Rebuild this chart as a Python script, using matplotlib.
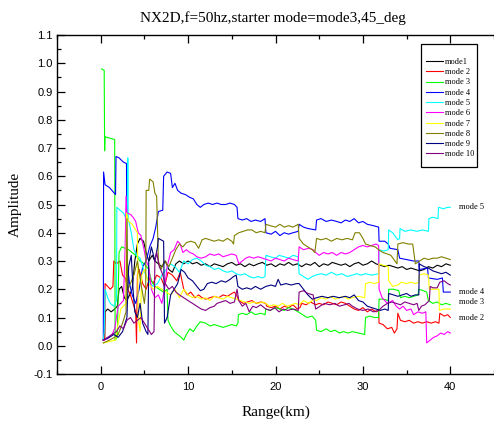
import matplotlib
matplotlib.use("Agg")
import matplotlib.pyplot as plt
from matplotlib.ticker import MultipleLocator
from matplotlib.patches import Rectangle

# ---------------- data ----------------
title = "NX2D,f=50hz,starter mode=mode3,45_deg"
labels = ["mode1", "mode 2", "mode 3", "mode 4", "mode 5",
          "mode 6", "mode 7", "mode 8", "mode 9", "mode 10"]
colors = ["#000000", "#ff0000", "#00ff00", "#0000ff", "#00ffff",
          "#ff00ff", "#ffff00", "#808000", "#000080", "#800080"]
end_labels = ["mode 5", "mode 4", "mode 3", "mode 2"]
end_label_y = [0.49, 0.19, 0.155, 0.10]

m1_x = [0.3,0.45,0.5,0.8,1.2,1.6,1.9,2.1,2.4,2.7,3.0,3.3,3.6,3.9,4.2,4.5,4.9,5.2,5.5,5.9,6.2,6.6,7.0,7.4,7.8,8.2,8.6,9.0,9.5,10.0,10.5,
        11,11.5,12,12.5,13,13.5,14,14.5,15,15.5,16,16.5,17,17.5,18,18.5,19,19.5,20,20.5,21,21.5,22,22.5,23,23.5,24,24.5,25,25.5,
        26,26.5,27,27.5,28,28.5,29,29.5,30,30.5,31,31.5,32,32.5,33,33.5,34,34.5,35,35.5,36,36.5,37,37.5,38,38.5,39,39.5,40]
m1_y = [0.02,0.03,0.12,0.13,0.12,0.13,0.14,0.2,0.21,0.17,0.16,0.18,0.2,0.3,0.36,0.38,0.37,0.33,0.3,0.32,0.3,0.29,0.28,0.3,0.27,0.26,0.29,0.3,0.29,0.3,0.29,
        0.295,0.285,0.29,0.28,0.29,0.285,0.28,0.29,0.295,0.285,0.29,0.28,0.29,0.283,0.29,0.295,0.285,0.29,0.28,0.29,0.285,0.295,0.285,0.29,0.28,0.29,0.285,0.295,0.28,0.29,
        0.285,0.295,0.29,0.285,0.29,0.28,0.29,0.295,0.285,0.29,0.3,0.29,0.285,0.28,0.285,0.28,0.275,0.28,0.27,0.275,0.27,0.265,0.27,0.28,0.275,0.285,0.28,0.29,0.285]

m2_x = [0.3,0.45,0.5,0.8,1.1,1.4,1.5,1.8,2.2,2.5,2.8,3.1,3.4,3.7,4.0,4.1,4.2,4.4,4.8,5.2,5.6,6.0,6.4,6.9,7.3,7.7,8.2,8.7,9.1,9.5,9.9,10.3,10.8,
        11.2,11.6,12,12.5,13,13.5,14,14.5,15,15.3,15.6,15.8,16.3,16.8,17.3,17.8,18.3,18.9,19.0,19.5,20,20.5,21,21.5,22,22.5,22.8,23.0,23.5,24,24.6,
        25,25.5,26,26.5,27,27.5,28,28.5,29,29.5,30,30.5,31,31.5,31.8,31.85,32.3,32.8,33.3,33.6,33.9,34.0,34.3,34.8,35.3,35.8,36.3,36.8,37.3,37.8,
        38.3,38.7,38.8,39.3,39.7,40]
m2_y = [0.02,0.02,0.22,0.21,0.2,0.21,0.3,0.29,0.3,0.25,0.24,0.2,0.18,0.15,0.12,0.01,0.25,0.27,0.22,0.2,0.24,0.22,0.25,0.24,0.21,0.26,0.25,0.23,0.26,0.2,0.18,0.19,0.17,
        0.18,0.17,0.165,0.17,0.175,0.17,0.18,0.175,0.185,0.19,0.175,0.16,0.15,0.155,0.16,0.15,0.155,0.15,0.14,0.135,0.14,0.13,0.14,0.135,0.145,0.13,0.135,0.15,0.145,0.155,0.145,
        0.15,0.145,0.155,0.15,0.145,0.155,0.15,0.14,0.13,0.125,0.135,0.12,0.13,0.12,0.125,0.08,0.075,0.06,0.065,0.045,0.06,0.115,0.09,0.085,0.09,0.08,0.085,0.08,0.085,0.08,
        0.085,0.08,0.115,0.105,0.11,0.10]

m3_x = [0.1,0.4,0.45,0.5,1.0,1.6,1.65,1.9,2.1,2.4,2.8,3.2,3.6,4.0,4.5,5.0,5.5,5.8,6.2,6.7,7.2,7.6,7.7,8.0,8.4,8.8,9.2,9.5,9.8,10.2,10.6,11.0,
        11.4,12,12.5,13,13.5,14,14.5,15,15.5,15.7,15.75,16.2,16.7,17.2,17.7,18.3,18.8,18.9,19.4,20,20.5,21,21.5,22,22.6,23.1,23.6,24.2,24.6,24.7,
        25.2,25.8,26.3,26.8,27.3,27.8,28.3,28.8,29.5,30.2,30.3,30.8,31.3,31.8,31.85,32.3,32.9,32.95,33.5,34.1,34.3,34.8,35.3,35.8,36.3,36.4,36.9,
        37.3,37.5,38,38.5,39,39.5,40]
m3_y = [0.98,0.975,0.69,0.74,0.735,0.73,0.02,0.03,0.33,0.35,0.345,0.34,0.33,0.32,0.3,0.29,0.27,0.23,0.21,0.2,0.19,0.2,0.09,0.07,0.05,0.04,0.03,0.02,0.04,0.06,0.05,0.07,
        0.085,0.08,0.07,0.075,0.07,0.065,0.07,0.075,0.07,0.08,0.11,0.115,0.11,0.12,0.11,0.115,0.11,0.13,0.125,0.135,0.13,0.125,0.135,0.13,0.12,0.11,0.1,0.105,0.09,0.055,
        0.05,0.06,0.05,0.055,0.045,0.05,0.045,0.05,0.045,0.04,0.1,0.105,0.1,0.1,0.165,0.165,0.16,0.2,0.2,0.195,0.17,0.175,0.17,0.175,0.18,0.2,0.195,
        0.19,0.16,0.15,0.155,0.145,0.15,0.145]

m4_x = [0.3,0.33,0.5,1.0,1.7,1.75,2.1,2.6,2.95,3.0,3.3,3.6,4.0,4.4,4.8,5.2,5.6,6.0,6.3,6.6,7.1,7.2,7.6,8.0,8.2,8.5,8.8,9.2,9.7,10.2,10.6,11.0,
        11.4,11.8,12.3,12.8,13.3,13.8,14.3,14.8,15.3,15.6,15.7,16.2,16.7,17.2,17.7,18.3,18.8,18.9,19.5,20,20.5,21,21.5,22.0,22.6,22.7,23.2,23.7,
        24.6,24.7,25.2,25.8,26.4,27,27.5,28,28.5,29.0,29.5,30,30.5,31.2,31.8,31.85,32.5,32.9,33.1,34.0,34.2,35,35.8,36.4,36.45,37.4,37.5,38.5,
        39.1,39.2,40]
m4_y = [0.02,0.615,0.57,0.56,0.535,0.67,0.665,0.65,0.645,0.3,0.22,0.18,0.15,0.2,0.28,0.3,0.35,0.38,0.42,0.475,0.48,0.6,0.615,0.61,0.56,0.575,0.55,0.54,0.535,0.525,0.52,0.5,
        0.49,0.5,0.505,0.5,0.505,0.5,0.5,0.505,0.5,0.49,0.45,0.445,0.45,0.44,0.445,0.44,0.45,0.40,0.395,0.405,0.39,0.4,0.395,0.4,0.405,0.43,0.42,0.415,
        0.41,0.445,0.45,0.44,0.445,0.44,0.435,0.445,0.44,0.45,0.435,0.44,0.43,0.425,0.42,0.37,0.37,0.36,0.345,0.34,0.31,0.305,0.3,0.3,0.27,0.275,0.24,0.235,
        0.24,0.19,0.19]

m5_x = [0.3,0.4,0.5,0.8,1.1,1.5,1.8,1.85,2.2,2.6,2.9,3.05,3.1,3.15,3.5,3.8,4.1,4.5,4.9,5.3,5.7,6.0,6.5,7.0,7.5,8.0,8.5,9.0,9.5,10.0,10.5,11.0,
        11.5,12,12.5,13,13.5,14,14.5,15,15.5,16,16.5,17,17.5,18,18.5,18.8,18.9,19.4,20,20.4,21,21.5,22,22.6,22.7,23.2,23.7,24.2,24.6,25.2,25.8,
        26.4,27,27.6,28.2,28.8,29.3,29.8,30.3,31,31.8,31.85,32.4,32.9,32.95,33.4,34.0,34.2,34.25,34.8,35.5,36.2,36.8,37.5,37.55,38.0,38.6,38.65,
        39.2,39.7,40]
m5_y = [0.02,0.05,0.2,0.17,0.15,0.14,0.16,0.49,0.48,0.47,0.45,0.45,0.665,0.45,0.4,0.34,0.32,0.31,0.27,0.24,0.22,0.21,0.22,0.25,0.27,0.29,0.28,0.26,0.3,0.29,0.305,0.31,
        0.3,0.285,0.28,0.27,0.275,0.265,0.26,0.265,0.255,0.25,0.255,0.245,0.24,0.245,0.24,0.245,0.32,0.315,0.31,0.32,0.315,0.31,0.32,0.315,0.255,0.245,0.235,0.245,0.25,0.255,0.25,
        0.26,0.25,0.255,0.245,0.25,0.255,0.25,0.255,0.25,0.255,0.34,0.335,0.34,0.41,0.4,0.375,0.38,0.415,0.405,0.41,0.405,0.41,0.405,0.45,0.455,0.45,0.49,
        0.485,0.49,0.49]

m6_x = [0.3,0.8,1.3,1.6,1.8,2.0,2.3,2.6,2.8,2.9,3.0,3.4,3.7,4.0,4.3,4.6,4.9,5.2,5.5,5.8,6.2,6.6,7.0,7.3,7.6,8.0,8.4,8.8,9.1,9.4,9.8,10.2,10.6,
        11.0,11.5,12.0,12.5,13.0,13.5,14,14.5,15,15.5,15.8,16.2,16.6,17,17.5,18,18.5,19,19.5,20,20.5,21,21.5,22,22.6,22.7,23.2,23.8,24.3,24.6,
        25.0,25.5,26,26.5,27,27.5,28,28.5,29,29.5,30,30.5,31,31.5,31.8,31.85,32.2,32.8,33.4,33.8,34.2,34.6,35.0,35.5,35.8,36.3,36.8,37.2,37.3,
        37.7,38.1,38.5,38.9,39.3,39.7,40]
m6_y = [0.02,0.025,0.04,0.06,0.1,0.14,0.15,0.16,0.35,0.53,0.47,0.465,0.455,0.44,0.4,0.39,0.35,0.3,0.28,0.2,0.17,0.18,0.15,0.2,0.28,0.33,0.34,0.37,0.36,0.33,0.34,0.33,0.325,
        0.315,0.31,0.315,0.325,0.32,0.325,0.315,0.32,0.325,0.32,0.29,0.3,0.31,0.315,0.31,0.315,0.31,0.305,0.3,0.31,0.305,0.3,0.31,0.305,0.3,0.35,0.34,0.345,0.34,0.33,
        0.32,0.33,0.325,0.33,0.32,0.33,0.325,0.33,0.34,0.35,0.355,0.35,0.355,0.36,0.355,0.2,0.17,0.15,0.16,0.14,0.13,0.14,0.125,0.13,0.11,0.12,0.115,0.12,0.01,
        0.02,0.03,0.035,0.045,0.04,0.05,0.045]

m7_x = [0.3,1.0,1.7,2.0,2.3,2.6,2.9,2.95,3.2,3.6,4.0,4.2,4.3,4.5,4.7,5.0,5.5,6.0,6.5,7.0,7.5,8.0,8.5,9.0,9.5,10,10.5,11,11.5,12,12.5,13,13.5,
        14,14.5,15,15.5,16,16.5,17,17.5,18,18.5,18.9,19.3,19.8,20.3,20.8,21.3,21.8,22.3,22.7,23.2,23.8,24.4,24.7,25.2,25.8,26.3,26.8,27.3,27.8,
        28.3,28.8,29.5,30.2,30.3,30.8,31.3,31.8,31.85,32.3,32.9,32.95,33.4,34.0,34.4,35,35.5,36,36.4,36.45,37.0,37.5,37.6,38.2,38.7,38.75,39.3,40]
m7_y = [0.01,0.015,0.02,0.08,0.13,0.14,0.15,0.47,0.44,0.43,0.41,0.4,0.1,0.05,0.25,0.27,0.22,0.2,0.21,0.2,0.19,0.18,0.2,0.17,0.2,0.18,0.17,0.175,0.165,0.17,0.16,0.175,0.17,
        0.165,0.175,0.17,0.165,0.16,0.155,0.15,0.155,0.15,0.155,0.15,0.14,0.145,0.14,0.15,0.14,0.145,0.15,0.145,0.16,0.15,0.165,0.16,0.17,0.165,0.175,0.165,0.17,0.175,
        0.165,0.17,0.175,0.17,0.22,0.225,0.22,0.225,0.29,0.285,0.28,0.23,0.21,0.215,0.225,0.22,0.225,0.22,0.225,0.25,0.255,0.25,0.2,0.2,0.2,0.125,0.13,0.13]

m8_x = [0.3,1.0,1.6,2.0,2.5,2.9,3.0,3.1,3.4,3.8,4.2,4.6,5.0,5.15,5.2,5.5,5.6,6.0,6.2,6.4,6.6,6.9,7.3,7.8,8.2,8.6,9.0,9.4,9.8,10.3,10.8,11.2,
        11.6,12.0,12.5,13.0,13.5,14,14.5,15.0,15.2,15.3,15.8,16.3,16.8,17.3,17.8,18.3,18.8,18.9,19.4,20,20.5,21,21.5,22,22.6,22.7,23.2,23.7,24.2,
        24.5,24.7,25.2,25.8,26.4,27,27.6,28.2,28.8,29.1,29.6,30.0,30.3,30.8,31.4,31.8,32.3,32.8,33.2,33.9,34.0,34.6,35.2,35.7,36.0,36.5,37.0,
        37.5,38,38.5,39,39.5,40]
m8_y = [0.01,0.02,0.03,0.04,0.08,0.12,0.45,0.2,0.22,0.25,0.3,0.22,0.15,0.2,0.55,0.55,0.59,0.58,0.54,0.53,0.3,0.27,0.3,0.28,0.31,0.34,0.36,0.35,0.365,0.37,0.365,0.345,
        0.375,0.38,0.375,0.37,0.375,0.37,0.38,0.37,0.36,0.39,0.4,0.405,0.41,0.41,0.4,0.405,0.4,0.43,0.425,0.42,0.43,0.42,0.425,0.42,0.43,0.38,0.36,0.35,0.34,
        0.33,0.38,0.375,0.38,0.37,0.38,0.375,0.38,0.375,0.4,0.4,0.38,0.36,0.355,0.35,0.34,0.33,0.325,0.32,0.29,0.36,0.365,0.36,0.36,0.29,0.3,0.31,
        0.305,0.31,0.31,0.315,0.31,0.305]

m9_x = [0.3,1.0,1.5,2.0,2.5,3.0,3.2,3.5,3.7,3.9,4.2,4.5,4.8,5.2,5.4,5.5,5.8,6.2,6.5,6.6,7.2,7.3,7.6,8.0,8.4,8.8,9.2,9.6,10.0,10.5,11.0,
        11.4,11.8,12.2,12.7,13.2,13.8,14.3,14.8,15.2,15.5,15.7,16.2,16.7,17.2,17.7,18.3,18.9,19.5,20.0,20.3,20.6,21.2,21.8,22.4,22.7,23.2,23.7,
        24.2,24.7,25.3,26,26.6,27.3,28,28.5,29,29.5,30,30.5,31,31.5,32,32.5,32.9,32.95,33.5,34,34.5,35,35.5,36.0,36.4,36.45,37,37.5,38,38.5,
        39,39.5,40]
m9_y = [0.02,0.03,0.04,0.03,0.05,0.1,0.28,0.32,0.2,0.12,0.1,0.15,0.08,0.05,0.04,0.3,0.35,0.3,0.35,0.38,0.37,0.08,0.1,0.18,0.2,0.22,0.27,0.26,0.24,0.23,0.21,
        0.195,0.2,0.22,0.225,0.22,0.23,0.225,0.235,0.245,0.25,0.21,0.2,0.205,0.2,0.21,0.2,0.21,0.215,0.21,0.235,0.215,0.22,0.215,0.22,0.22,0.2,0.18,
        0.165,0.17,0.175,0.17,0.175,0.17,0.175,0.17,0.18,0.16,0.155,0.14,0.135,0.13,0.125,0.13,0.125,0.185,0.18,0.175,0.18,0.185,0.175,0.18,0.18,0.29,0.28,0.275,0.265,0.26,
        0.255,0.26,0.25]

m10_x = [0.3,0.8,1.3,1.8,2.2,2.6,3.0,3.4,3.8,4.2,4.6,5.0,5.4,5.8,6.1,6.2,6.4,6.7,7.0,7.4,7.8,8.2,8.6,9.0,9.5,10.0,10.5,11.0,11.5,12,12.5,
         13,13.3,13.8,14.3,14.8,15.3,15.6,15.8,16.2,16.6,17.0,17.4,17.8,18.3,18.9,19.4,19.9,20.4,20.9,21.4,22,22.6,22.7,23.2,23.7,24.3,24.6,
         25.1,25.6,26.2,26.8,27.3,27.9,28.4,28.8,29.4,30,30.6,31.2,31.8,32.3,32.8,33.3,33.8,34.3,34.8,35.3,35.8,36.2,36.4,36.7,37.1,37.6,37.7,
         38.0,38.5,38.8,39.3,39.7,40]
m10_y = [0.02,0.03,0.04,0.05,0.07,0.06,0.09,0.1,0.08,0.09,0.1,0.08,0.06,0.04,0.05,0.3,0.33,0.28,0.26,0.22,0.2,0.21,0.19,0.18,0.17,0.16,0.15,0.14,0.13,0.125,0.135,
         0.14,0.15,0.155,0.16,0.15,0.155,0.2,0.16,0.14,0.15,0.12,0.14,0.135,0.145,0.13,0.125,0.135,0.12,0.13,0.125,0.13,0.125,0.19,0.195,0.185,0.18,0.13,
         0.14,0.15,0.145,0.15,0.14,0.145,0.15,0.14,0.13,0.125,0.13,0.12,0.125,0.14,0.15,0.155,0.15,0.145,0.155,0.15,0.145,0.15,0.125,0.14,0.145,0.16,0.21,
         0.205,0.205,0.225,0.23,0.22,0.215]

series_x = [m1_x, m2_x, m3_x, m4_x, m5_x, m6_x, m7_x, m8_x, m9_x, m10_x]
series_y = [m1_y, m2_y, m3_y, m4_y, m5_y, m6_y, m7_y, m8_y, m9_y, m10_y]

x_ticks = [0, 10, 20, 30, 40]
y_ticks = [-0.1, 0.0, 0.1, 0.2, 0.3, 0.4, 0.5, 0.6, 0.7, 0.8, 0.9, 1.0, 1.1]

# ---------------- figure ----------------
serif = ["Liberation Serif", "DejaVu Serif"]
sans = ["Liberation Sans", "DejaVu Sans"]

W, H = 494, 423
AX_L, AX_R, AX_T, AX_B = 57, 494, 35, 374
aw, ah = AX_R - AX_L, AX_B - AX_T

def ax_x(px):
    return (px - AX_L) / aw

def ax_y(py):
    return (AX_B - py) / ah

fig = plt.figure(figsize=(W/100, H/100), dpi=100)
ax = fig.add_axes([AX_L/W, 1-AX_B/H, aw/W, ah/H])

for xs, ys, c, lab in zip(series_x, series_y, colors, labels):
    ax.plot(xs, ys, color=c, lw=0.8, label=lab)

ax.set_xlim(-5, 45)
ax.set_ylim(-0.1, 1.1)
ax.set_xticks(x_ticks)
ax.set_yticks(y_ticks)
ax.set_yticklabels([f"{v:.1f}" for v in y_ticks])
ax.xaxis.set_minor_locator(MultipleLocator(5))
ax.yaxis.set_minor_locator(MultipleLocator(0.05))
ax.tick_params(which="both", direction="in", top=True, right=False, width=0.9)
ax.tick_params(which="major", length=5.5)
ax.tick_params(which="minor", length=3)
ax.tick_params(axis="x", which="major", pad=6)
ax.tick_params(axis="y", which="major", pad=3)
for lab in ax.get_xticklabels() + ax.get_yticklabels():
    lab.set_fontfamily(sans)
    lab.set_fontsize(8)
ax.spines["right"].set_visible(False)
for s in ("left", "bottom", "top"):
    ax.spines[s].set_linewidth(1.0)

fig.text(273/W, 1-22/H, title, ha="center", va="baseline",
         fontfamily=serif, fontsize=11)
ax.set_xlabel("Range(km)", fontfamily=serif, fontsize=11)
ax.xaxis.set_label_coords(0.5, ax_y(406))
ax.set_ylabel("Amplitude", fontfamily=serif, fontsize=11)
ax.yaxis.set_label_coords(ax_x(22), 0.5)

# legend frame drawn explicitly, entries placed inside it
frame = Rectangle((ax_x(421), ax_y(167)), ax_x(477) - ax_x(421), ax_y(44) - ax_y(167),
                  transform=ax.transAxes, facecolor="white", edgecolor="black",
                  lw=0.9, zorder=4, clip_on=False)
ax.add_patch(frame)
leg = ax.legend(loc="upper left", bbox_to_anchor=(ax_x(426), ax_y(58)),
                prop={"family": serif, "size": 6}, frameon=False,
                borderpad=0.0, labelspacing=0.27, handlelength=2.0, handletextpad=0.3,
                borderaxespad=0.0)
leg.set_zorder(5)

for t, yv in zip(end_labels, end_label_y):
    ax.text(41.0, yv, t, fontfamily=serif, fontsize=6, va="center", ha="left")

fig.savefig("out.png", dpi=100)
